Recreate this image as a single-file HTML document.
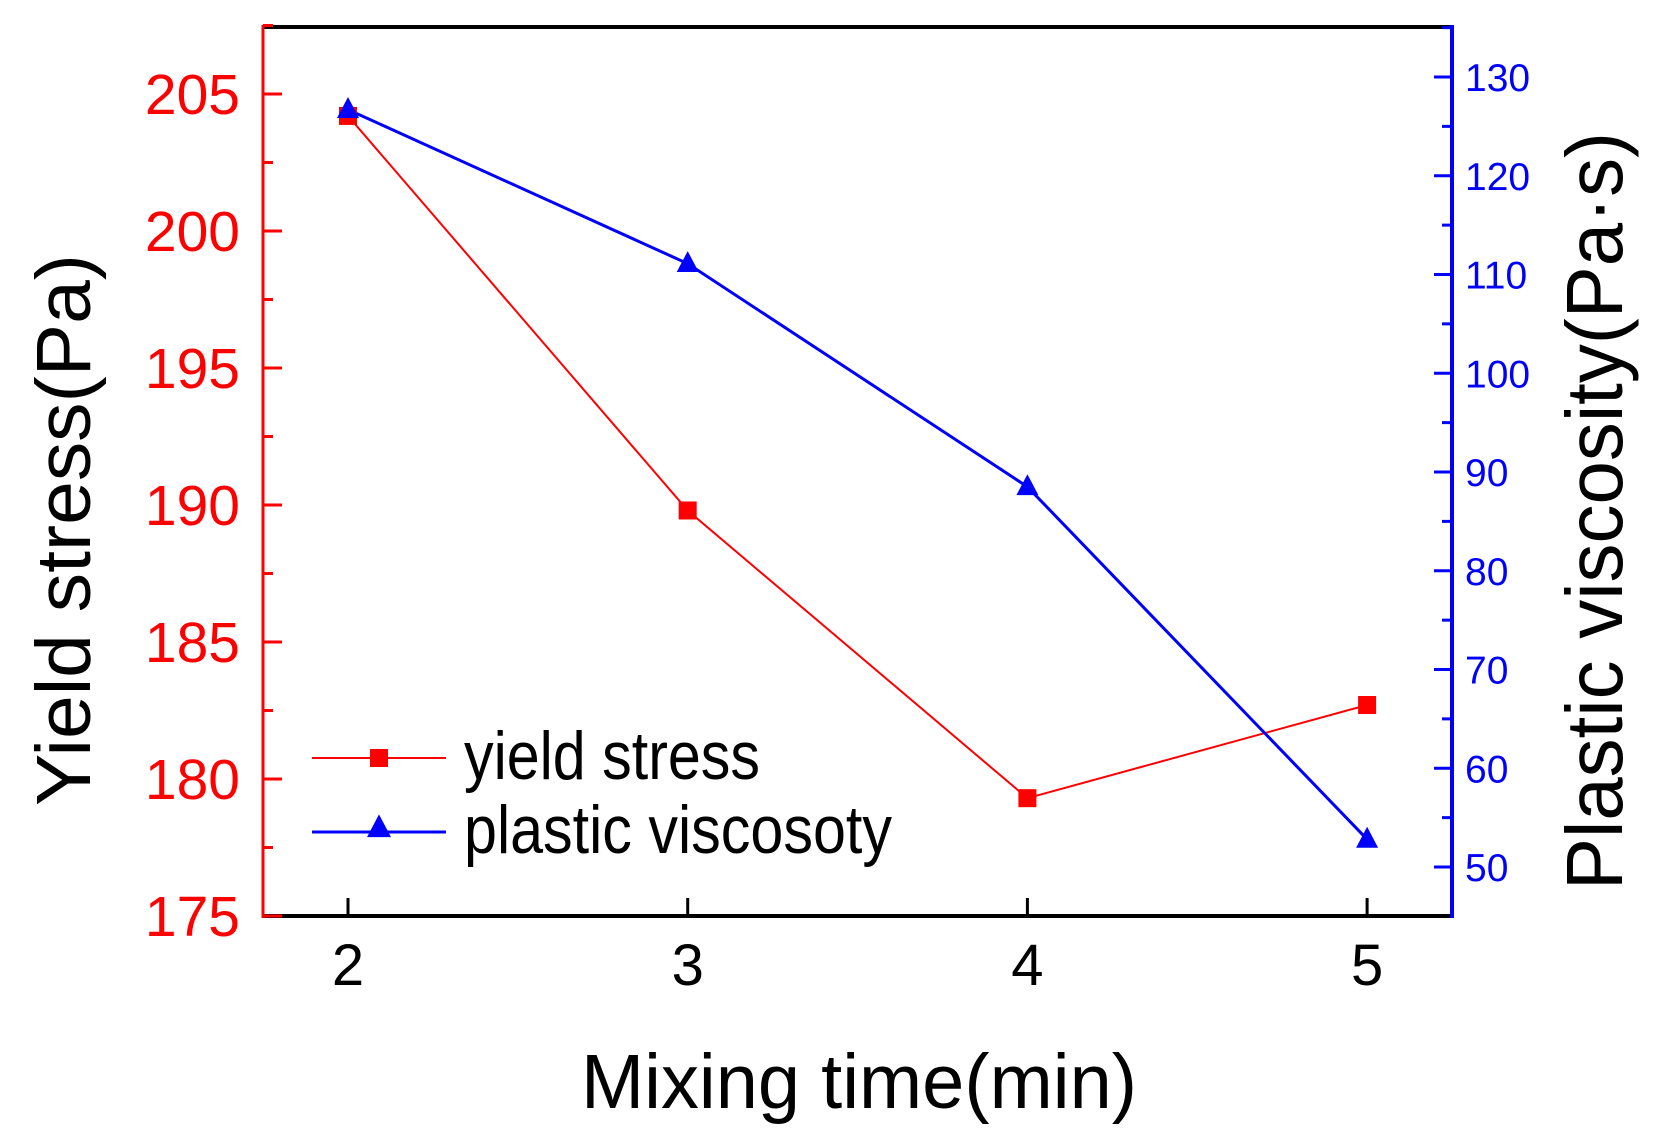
<!DOCTYPE html>
<html><head><meta charset="utf-8">
<style>
html,body{margin:0;padding:0;background:#fff;}
svg{display:block;}
text{font-family:"Liberation Sans",Arial,sans-serif;}
</style></head>
<body>
<svg id="chart" width="1662" height="1132" viewBox="0 0 1662 1132" xmlns="http://www.w3.org/2000/svg">
  <g id="grid-layer"></g>
</svg>
<script>
const categories = [2, 3, 4, 5];
const yieldStress = [204.2, 189.8, 179.3, 182.7];
const plasticViscosity = [126.7, 111.1, 88.5, 52.8];
const leftTicks = [175, 180, 185, 190, 195, 200, 205];
const rightTicks = [50, 60, 70, 80, 90, 100, 110, 120, 130];
const xTicks = [2, 3, 4, 5];

const NS = 'http://www.w3.org/2000/svg';
const svg = document.getElementById('chart');
const L = 263, R = 1452, T = 27, B = 916;
function xs(v){ return 348 + (v - 2) * 339.7; }
function yl(v){ return 916 - (v - 175) * 27.4; }
function yr(v){ return 867 - (v - 50) * 9.875; }
function el(tag, attrs, parent){
  const e = document.createElementNS(NS, tag);
  for (const k in attrs) e.setAttribute(k, attrs[k]);
  (parent || svg).appendChild(e);
  return e;
}
function txt(s, attrs){ const t = el('text', attrs); t.textContent = s; return t; }

let a;
a = el('line', {x1:L, y1:T, x2:R, y2:T, stroke:'#000', 'stroke-width':4});


a = el('line', {x1:L, y1:B, x2:R, y2:B, stroke:'#000', 'stroke-width':4});


a = el('line', {x1:L, y1:T-2, x2:L, y2:B+2, stroke:'#f00', 'stroke-width':3});


a = el('line', {x1:R, y1:T-2, x2:R, y2:B+2, stroke:'#00f', 'stroke-width':4});



for (let v = 175; v <= 207.5; v += 2.5) {
  const major = (v % 5 === 0);
  const t = el('line', {x1:L, x2:L + (major ? 19 : 10), y1:yl(v), y2:yl(v), stroke:'#f00', 'stroke-width':3});
  
  
}
leftTicks.forEach(v => {
  const t = txt(String(v), {x:240, y:yl(v) + 20, 'text-anchor':'end', 'font-size':57, fill:'#f00'});
  
  
});
for (let v = 50; v <= 135; v += 5) {
  const major = (v % 10 === 0);
  const t = el('line', {x1:R, x2:R - (major ? 18 : 10), y1:yr(v), y2:yr(v), stroke:'#00f', 'stroke-width':3});
  
  
}
rightTicks.forEach(v => {
  const t = txt(String(v), {x:1465, y:yr(v) + 14, 'font-size':39, fill:'#00f'});
  
  
});
xTicks.forEach(v => {
  const t = el('line', {x1:xs(v), x2:xs(v), y1:B, y2:B - 18, stroke:'#000', 'stroke-width':3});
  
  
  const l = txt(String(v), {x:xs(v), y:985, 'text-anchor':'middle', 'font-size':58, fill:'#000'});
  
  
});

let tt = txt('Mixing time(min)', {x:859, y:1108, 'text-anchor':'middle', 'font-size':77, fill:'#000', textLength:556, lengthAdjust:'spacingAndGlyphs'});


tt = txt('Yield stress(Pa)', {x:0, y:0, 'text-anchor':'middle', 'font-size':77, fill:'#000', textLength:552, lengthAdjust:'spacingAndGlyphs', transform:'translate(90,530) rotate(-90)'});


tt = txt('Plastic viscosity(Pa·s)', {x:0, y:0, 'text-anchor':'middle', 'font-size':80, fill:'#000', textLength:758, lengthAdjust:'spacingAndGlyphs', transform:'translate(1622,511) rotate(-90)'});



function tri(cx, cy, s, color){
  const h = s * 0.95;
  return el('polygon', {points:`${cx},${cy - h*0.6} ${cx - s/2},${cy + h*0.4} ${cx + s/2},${cy + h*0.4}`, fill:color});
}
const redLine = el('polyline', {points: categories.map((c,i)=>xs(c)+','+yl(yieldStress[i])).join(' '), fill:'none', stroke:'#f00', 'stroke-width':2});


const blueLine = el('polyline', {points: categories.map((c,i)=>xs(c)+','+yr(plasticViscosity[i])).join(' '), fill:'none', stroke:'#00f', 'stroke-width':3});


categories.forEach((c,i) => {
  const m = el('rect', {x:xs(c)-9, y:yl(yieldStress[i])-9, width:18, height:18, fill:'#f00'});
  
  
});
categories.forEach((c,i) => {
  const m = tri(xs(c), yr(plasticViscosity[i]), 22, '#00f');
  
  
});

const lg = el('g', {});


let li = el('line', {x1:312, x2:446, y1:758, y2:758, stroke:'#f00', 'stroke-width':2}, lg);


li = el('rect', {x:370, y:749, width:18, height:18, fill:'#f00'}, lg);


li = el('line', {x1:312, x2:446, y1:832, y2:832, stroke:'#00f', 'stroke-width':3}, lg);


li = tri(379, 828, 24, '#00f');
lg.appendChild(li);


let lt = document.createElementNS(NS, 'text');
lt.setAttribute('x', 464); lt.setAttribute('y', 779); lt.setAttribute('font-size', 68); lt.setAttribute('textLength', 296); lt.setAttribute('lengthAdjust', 'spacingAndGlyphs');
lt.textContent = 'yield stress';
lg.appendChild(lt);


lt = document.createElementNS(NS, 'text');
lt.setAttribute('x', 464); lt.setAttribute('y', 853); lt.setAttribute('font-size', 68); lt.setAttribute('textLength', 428); lt.setAttribute('lengthAdjust', 'spacingAndGlyphs');
lt.textContent = 'plastic viscosoty';
lg.appendChild(lt);


</script>
</body></html>
